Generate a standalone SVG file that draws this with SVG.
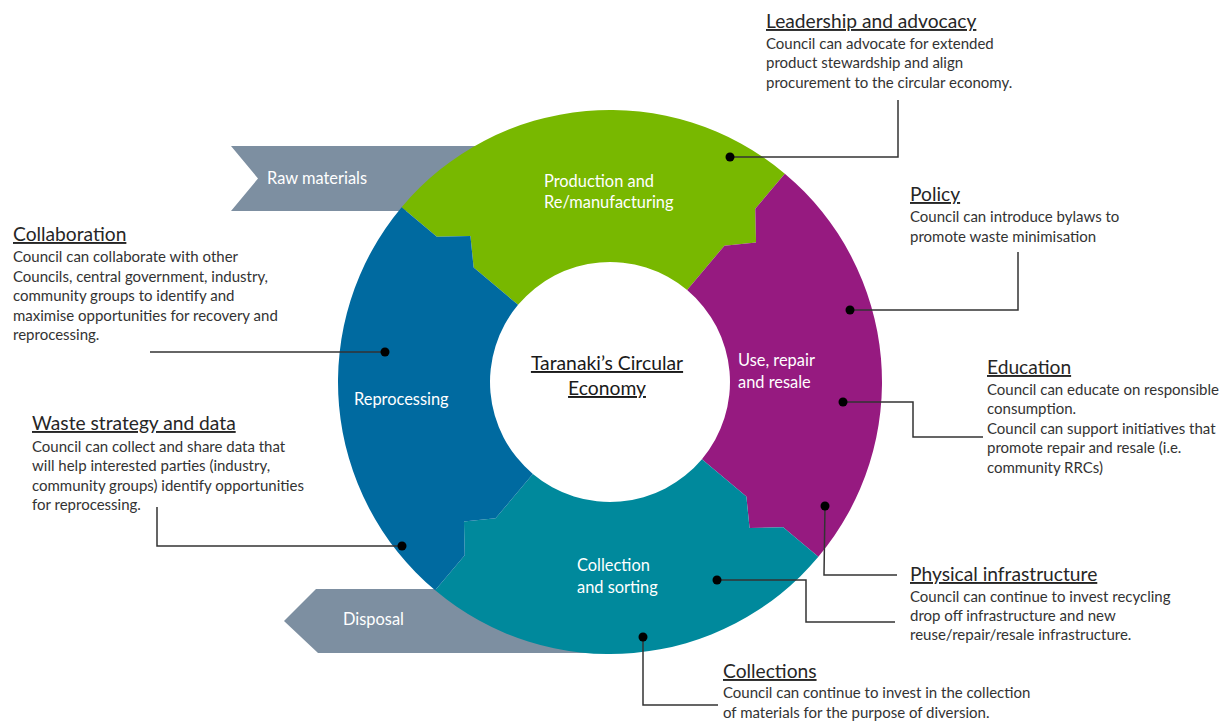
<svg xmlns="http://www.w3.org/2000/svg" width="1227" height="722" viewBox="0 0 1227 722">
<style>
.body{font-family:Lato,"Liberation Sans",sans-serif;font-size:15px;fill:#333}
.head{font-family:Lato,"Liberation Sans",sans-serif;font-size:19.2px;fill:#262626;text-decoration:underline}
.lab{font-family:Lato,"Liberation Sans",sans-serif;font-size:16.4px;fill:#fff}
.ctr{font-family:Lato,"Liberation Sans",sans-serif;font-size:19.3px;fill:#1a1a1a;text-decoration:underline}
.conn{fill:none;stroke:#333;stroke-width:1.5}
.dot{fill:#000}
.band{fill:#7d8fa1}
</style>
<rect width="1227" height="722" fill="#fff"/>
<g id="raw-materials">
<polygon class="band" points="231,146 500,146 500,211 231,211 258,178.5"/>
<text class="lab" x="267" y="184">Raw materials</text>
</g>
<g id="disposal">
<polygon class="band" points="284,621 316,589 600,589 600,653 318,653"/>
</g>
<g id="production">
<path fill="#78b800" d="M401.64,207.16 A272,272 0 0 1 784.84,173.64 L755.27,208.87 L756.04,242.44 L724.42,245.64 L687.13,290.08 A120,120 0 0 0 518.08,304.87 L473.64,267.58 L470.44,235.96 L436.87,236.73 Z"/>
<text class="lab" x="544" y="187">Production and</text>
<text class="lab" x="544" y="208">Re/manufacturing</text>
</g>
<g id="use">
<path fill="#961a80" d="M784.84,173.64 A272,272 0 0 1 818.36,556.84 L783.13,527.27 L749.56,528.04 L746.36,496.42 L701.92,459.13 A120,120 0 0 0 687.13,290.08 L724.42,245.64 L756.04,242.44 L755.27,208.87 Z"/>
<text class="lab" x="738" y="366">Use, repair</text>
<text class="lab" x="738" y="388">and resale</text>
</g>
<g id="collection">
<path fill="#00899c" d="M818.36,556.84 A272,272 0 0 1 435.16,590.36 L464.73,555.13 L463.96,521.56 L495.58,518.36 L532.87,473.92 A120,120 0 0 0 701.92,459.13 L746.36,496.42 L749.56,528.04 L783.13,527.27 Z"/>
<text class="lab" x="577" y="571">Collection</text>
<text class="lab" x="577" y="593">and sorting</text>
</g>
<g id="reprocessing">
<path fill="#006aa0" d="M435.16,590.36 A272,272 0 0 1 401.64,207.16 L436.87,236.73 L470.44,235.96 L473.64,267.58 L518.08,304.87 A120,120 0 0 0 532.87,473.92 L495.58,518.36 L463.96,521.56 L464.73,555.13 Z"/>
<text class="lab" x="354" y="405">Reprocessing</text>
</g>
<g id="disposal-label">
<text class="lab" x="343" y="625">Disposal</text>
</g>
<g id="centre">
<text class="ctr" x="607" y="370" text-anchor="middle">Taranaki’s Circular</text>
<text class="ctr" x="607" y="395" text-anchor="middle">Economy</text>
</g>
<g id="connectors">
<polyline class="conn" points="730,157 898,157 898,100"/>
<circle class="dot" cx="730" cy="157" r="4.5"/>
<polyline class="conn" points="850,310 1018,310 1018,252"/>
<circle class="dot" cx="850" cy="310" r="4.5"/>
<polyline class="conn" points="843,402 913,402 913,437 983,437"/>
<circle class="dot" cx="843" cy="402" r="4.5"/>
<polyline class="conn" points="825,506 824,575 897,575"/>
<circle class="dot" cx="825" cy="506" r="4.5"/>
<polyline class="conn" points="717,580 806,580 806,622 895,622"/>
<circle class="dot" cx="717" cy="580" r="4.5"/>
<polyline class="conn" points="643,637 643,705 718,705"/>
<circle class="dot" cx="643" cy="637" r="4.5"/>
<polyline class="conn" points="385,352 150,352"/>
<circle class="dot" cx="385" cy="352" r="4.5"/>
<polyline class="conn" points="402,546 157,546 157,507"/>
<circle class="dot" cx="402" cy="546" r="4.5"/>
</g>
<g id="leadership">
<text class="head" x="766" y="28">Leadership and advocacy</text>
<text class="body" x="766" y="49">Council can advocate for extended</text>
<text class="body" x="766" y="68">product stewardship and align</text>
<text class="body" x="766" y="88">procurement to the circular economy.</text>
</g>
<g id="policy">
<text class="head" x="910" y="201">Policy</text>
<text class="body" x="910" y="222">Council can introduce bylaws to</text>
<text class="body" x="910" y="242">promote waste minimisation</text>
</g>
<g id="education">
<text class="head" x="987" y="374">Education</text>
<text class="body" x="987" y="395">Council can educate on responsible</text>
<text class="body" x="987" y="414">consumption.</text>
<text class="body" x="987" y="434">Council can support initiatives that</text>
<text class="body" x="987" y="453">promote repair and resale (i.e.</text>
<text class="body" x="987" y="473">community RRCs)</text>
</g>
<g id="physical-infrastructure">
<text class="head" x="910" y="581">Physical infrastructure</text>
<text class="body" x="910" y="602">Council can continue to invest recycling</text>
<text class="body" x="910" y="621">drop off infrastructure and new</text>
<text class="body" x="910" y="640">reuse/repair/resale infrastructure.</text>
</g>
<g id="collections">
<text class="head" x="723" y="678">Collections</text>
<text class="body" x="723" y="698">Council can continue to invest in the collection</text>
<text class="body" x="723" y="718">of materials for the purpose of diversion.</text>
</g>
<g id="collaboration">
<text class="head" x="13" y="241">Collaboration</text>
<text class="body" x="13" y="262">Council can collaborate with other</text>
<text class="body" x="13" y="282">Councils, central government, industry,</text>
<text class="body" x="13" y="301">community groups to identify and</text>
<text class="body" x="13" y="321">maximise opportunities for recovery and</text>
<text class="body" x="13" y="340">reprocessing.</text>
</g>
<g id="waste-strategy">
<text class="head" x="32" y="430">Waste strategy and data</text>
<text class="body" x="32" y="452">Council can collect and share data that</text>
<text class="body" x="32" y="471">will help interested parties (industry,</text>
<text class="body" x="32" y="491">community groups) identify opportunities</text>
<text class="body" x="32" y="510">for reprocessing.</text>
</g>
</svg>
